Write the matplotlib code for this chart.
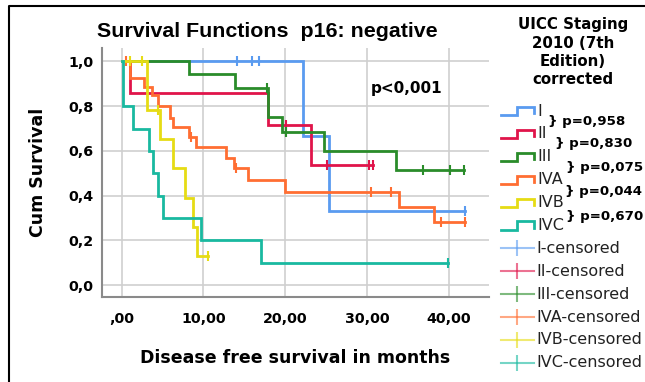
import numpy as np
import matplotlib
matplotlib.use("Agg")
import matplotlib.pyplot as plt
from matplotlib.lines import Line2D

# ---------------- data ----------------
groups = ["I", "II", "III", "IVA", "IVB", "IVC"]
colors = ["#5a9bf0", "#e0144a", "#2a8c2a", "#ff6e32", "#e6dc14", "#19b9a0"]

ev_I = [22.2, 25.3]
sv_I = [0.667, 0.333]
cz_I = [14.1, 15.9, 16.8, 42.0]

ev_II = [1.0, 17.9, 23.2]
sv_II = [0.857, 0.714, 0.536]
cz_II = [20.1, 25.1, 30.2, 30.7]

ev_III = [8.2, 13.9, 17.9, 19.6, 24.7, 33.5]
sv_III = [0.944, 0.880, 0.753, 0.683, 0.600, 0.515]
cz_III = [17.8, 20.1, 36.8, 40.1, 41.9]

ev_IVA = [1.0, 2.7, 3.7, 4.5, 5.9, 6.3, 8.3, 9.1, 12.8, 13.7, 15.5, 20.0, 33.9, 38.2]
sv_IVA = [0.925, 0.887, 0.850, 0.800, 0.746, 0.706, 0.664, 0.616, 0.567, 0.522,
          0.470, 0.417, 0.348, 0.280]
cz_IVA = [0.5, 8.5, 14.0, 30.5, 32.9, 39.0, 42.0]

ev_IVB = [3.1, 4.7, 6.25, 7.75, 8.7, 9.25]
sv_IVB = [0.783, 0.652, 0.522, 0.388, 0.261, 0.130]
cz_IVB = [1.0, 2.5, 4.4, 10.6]

ev_IVC = [0.2, 1.45, 3.3, 3.9, 4.5, 5.1, 9.7, 17.0]
sv_IVC = [0.80, 0.70, 0.60, 0.50, 0.40, 0.30, 0.20, 0.10]
cz_IVC = [39.9]

events = [ev_I, ev_II, ev_III, ev_IVA, ev_IVB, ev_IVC]
survs = [sv_I, sv_II, sv_III, sv_IVA, sv_IVB, sv_IVC]
censors = [cz_I, cz_II, cz_III, cz_IVA, cz_IVB, cz_IVC]

pvals = ["} p=0,958", "} p=0,830", "} p=0,075", "} p=0,044", "} p=0,670"]
xticks = [0, 10, 20, 30, 40]
xticklabels = [",00", "10,00", "20,00", "30,00", "40,00"]
yticks = [0.0, 0.2, 0.4, 0.6, 0.8, 1.0]
yticklabels = ["0,0", "0,2", "0,4", "0,6", "0,8", "1,0"]

# ---------------- figure ----------------
W, H = 645, 382
fig = plt.figure(figsize=(W / 100, H / 100), dpi=100)
plt.rcParams['font.family'] = ['DejaVu Sans']


def fx(px):
    return px / W


def fy(py):
    return 1 - py / H


ax = fig.add_axes([fx(101.7), fy(296.7), fx(489) - fx(101.7), fy(48) - fy(296.7)])
ax.set_xlim(-2.42, 44.9)
ax.set_ylim(-0.052, 1.06)
for s in ["top", "right"]:
    ax.spines[s].set_visible(False)
for s in ["left", "bottom"]:
    ax.spines[s].set_color("#8a8a8a")
    ax.spines[s].set_linewidth(1.5)
ax.set_xticks(xticks)
ax.set_xticklabels(xticklabels, fontweight="bold", fontsize=10.3)
ax.set_yticks(yticks)
ax.set_yticklabels(yticklabels, fontweight="bold", fontsize=10.3)
ax.tick_params(axis="both", length=0)
ax.tick_params(axis="x", pad=11)
ax.tick_params(axis="y", pad=6)
ax.grid(True, color="#cfcfcf", linewidth=1.2)
ax.set_axisbelow(True)

for ev, sv, cz, c in zip(events, survs, censors, colors):
    xs = np.array([0.0] + list(ev) + [max(cz + ev)])
    ys = np.array([1.0] + list(sv) + [sv[-1]])
    ax.plot(xs, ys, drawstyle="steps-post", color=c, lw=2.0, solid_joinstyle="miter")
    all_x = np.array([0.0] + list(ev))
    all_y = np.array([1.0] + list(sv))
    cx = np.array(cz)
    idx = np.searchsorted(all_x, cx, side="right") - 1
    cy = all_y[idx]
    ax.plot(cx, cy, ls="none", marker="|", ms=7, mew=1.5, color=c)

ax.text(30.4, 0.88, "p<0,001", fontweight="bold", fontsize=11, va="center", ha="left")

# titles / labels
fig.text(fx(96.7), fy(36.7), "Survival Functions  p16: negative", family="Liberation Sans",
         fontweight="bold", fontsize=15.4, va="baseline", ha="left")
fig.text(fx(38), fy(172), "Cum Survival", rotation=90, fontweight="bold", fontsize=12.5,
         va="center", ha="center")
fig.text(fx(295), fy(363), "Disease free survival in months", fontweight="bold",
         fontsize=12.5, va="baseline", ha="center")

# legend title
for txt, by in zip(["UICC Staging", "2010 (7th", "Edition)", "corrected"], [29.5, 48, 66, 84]):
    fig.text(fx(573), fy(by), txt, fontweight="bold", fontsize=10.8, ha="center", va="baseline")

# legend entries
ys_leg = [111 + 22.9 * k for k in range(12)]
x0, x1 = 500.7, 534
for k, (g, c) in enumerate(zip(groups, colors)):
    yc = ys_leg[k]
    xs = [fx(x0), fx(517), fx(517), fx(x1), fx(x1)]
    yy = [fy(yc + 4), fy(yc + 4), fy(yc - 4), fy(yc - 4), fy(yc + 2)]
    fig.add_artist(Line2D(xs, yy, color=c, lw=2.0, transform=fig.transFigure,
                          solid_joinstyle="miter"))
    fig.text(fx(537), fy(yc), g, fontsize=11.5, va="center", ha="left", color="#222222")
for k, (g, c) in enumerate(zip(groups, colors)):
    yc = ys_leg[6 + k]
    fig.add_artist(Line2D([fx(x0), fx(x1)], [fy(yc), fy(yc)], color=c, lw=1.5, alpha=0.6,
                          transform=fig.transFigure))
    fig.add_artist(Line2D([fx(517)], [fy(yc)], marker="|", ms=11, mew=1.5, color=c, alpha=0.6,
                          transform=fig.transFigure))
    fig.text(fx(536), fy(yc), g + "-censored", fontsize=11.5, va="center", ha="left",
             color="#222222")

# p-values between legend rows
for p, px_, py_ in zip(pvals, [548, 555, 566, 565, 566], [121.7, 143.3, 168, 191.7, 216.7]):
    fig.text(fx(px_), fy(py_), p, fontweight="bold", fontsize=9.6, va="center", ha="left")

# outer border (left and top)
fig.add_artist(Line2D([fx(9), fx(9), fx(W)], [fy(H), fy(6), fy(6)], color="black", lw=1.5,
                      transform=fig.transFigure))

fig.savefig("out.png", dpi=100)
